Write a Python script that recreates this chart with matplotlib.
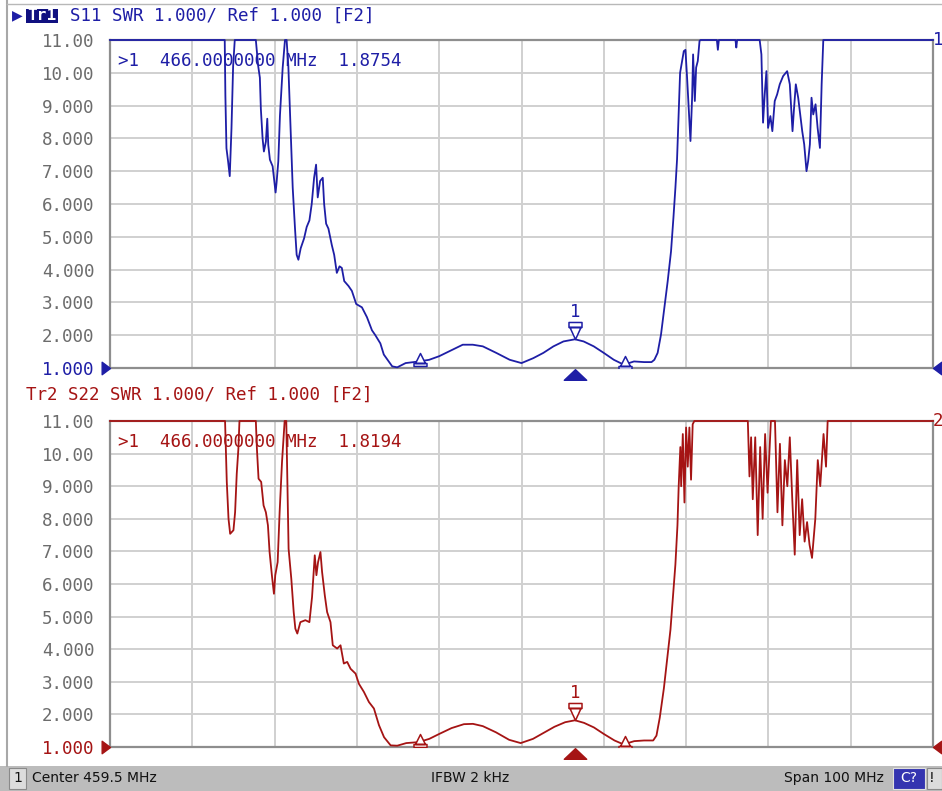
import numpy as np
import matplotlib
matplotlib.use("Agg")
import matplotlib.pyplot as plt
from matplotlib.path import Path
import matplotlib.patches as mpatches
from matplotlib.lines import Line2D

# ---------------- data ----------------
center_mhz = 459.5
span_mhz = 100.0
swr_ticks = [11, 10, 9, 8, 7, 6, 5, 4, 3, 2, 1]
swr_tick_labels = ["11.00", "10.00", "9.000", "8.000", "7.000", "6.000",
                   "5.000", "4.000", "3.000", "2.000", "1.000"]

s11_freq = [409.5, 423.44, 423.52, 423.65, 423.85, 424.05, 424.26, 424.46, 424.66,
            427.22, 427.51, 427.71, 427.83, 428.04, 428.2, 428.44, 428.61, 428.73,
            428.93, 429.26, 429.46, 429.62, 429.74, 429.95, 430.15, 430.48, 430.76,
            430.96, 431.17, 431.49, 431.7, 431.98, 432.18, 432.39, 432.67, 433.08,
            433.4, 433.73, 434.01, 434.3, 434.54, 434.74, 435.03, 435.35, 435.52,
            435.76, 436.04, 436.45, 436.74, 437.06, 437.39, 437.67, 437.96, 438.48,
            438.89, 439.42, 440.11, 440.72, 441.33, 441.74, 442.35, 442.77, 443.79,
            444.4, 445.42, 447.05, 448.28, 449.5, 450.72, 452.36, 453.58, 454.8,
            456.44, 458.07, 459.5, 460.93, 462.15, 463.38, 464.6, 466.0, 467.05,
            468.28, 469.5, 470.72, 471.94, 473.17, 474.4, 475.3, 475.64, 476.04,
            476.45, 476.86, 477.26, 477.67, 477.96, 478.2, 478.4, 478.61, 478.77,
            479.01, 479.22, 479.42, 479.62, 479.83, 480.03, 480.23, 480.35, 480.56,
            480.72, 480.92, 481.13, 481.25, 483.24, 483.36, 483.48, 485.5, 485.6,
            485.7, 488.44, 488.65, 488.85, 489.05, 489.26, 489.46, 489.74, 489.98,
            490.27, 490.56, 490.88, 491.29, 491.78, 492.1, 492.43, 492.59, 492.83,
            493.12, 493.32, 493.61, 493.85, 494.13, 494.33, 494.54, 494.74, 494.95,
            495.23, 495.48, 495.76, 495.97, 496.17, 509.5]
s11_swr = [11, 11, 9.3, 7.7, 7.3, 6.85, 8.3, 10.2, 11,
           11, 10.2, 9.85, 8.9, 8.0, 7.6, 7.9, 8.6, 7.8,
           7.35, 7.15, 6.7, 6.35, 6.65, 7.3, 8.7, 10.15, 11,
           11, 10.2, 8.0, 6.5, 5.25, 4.45, 4.3, 4.65, 4.95,
           5.3, 5.5, 6.0, 6.8, 7.2, 6.2, 6.7, 6.8, 6.0,
           5.4, 5.25, 4.75, 4.45, 3.9, 4.1, 4.05, 3.65, 3.5,
           3.35, 2.95, 2.85, 2.55, 2.15, 2.0, 1.75, 1.41, 1.05,
           1.02, 1.15, 1.2, 1.25, 1.36, 1.51, 1.71, 1.71, 1.66,
           1.46, 1.25, 1.15, 1.3, 1.46, 1.66, 1.81, 1.8754, 1.81,
           1.66, 1.46, 1.25, 1.1, 1.2, 1.18, 1.18, 1.25, 1.46,
           2.02, 2.83, 3.64, 4.56, 5.58, 6.49, 7.36, 8.88, 10.0,
           10.36, 10.66, 10.7, 9.85, 8.83, 7.92, 9.24, 10.56, 9.14,
           10.16, 10.36, 10.97, 11, 11, 10.7, 11, 11, 10.77,
           11, 11, 10.56, 8.48, 9.34, 10.05, 8.32, 8.68, 8.22,
           9.14, 9.34, 9.65, 9.9, 10.05, 9.65, 8.22, 8.83, 9.65,
           9.24, 8.83, 8.22, 7.82, 7.0, 7.31, 7.82, 9.24, 8.73,
           9.04, 8.32, 7.71, 9.65, 11, 11]

s22_freq = [409.5, 423.48, 423.69, 423.9, 424.1, 424.5, 424.7, 424.9, 425.1, 425.23,
            427.22, 427.35, 427.55, 427.87, 428.16, 428.44, 428.69, 428.89, 429.17,
            429.42, 429.58, 429.87, 430.11, 430.4, 430.72, 430.92, 431.2, 431.53,
            431.82, 432.02, 432.26, 432.63, 433.24, 433.73, 434.05, 434.38, 434.58,
            434.78, 435.07, 435.27, 435.6, 435.88, 436.29, 436.57, 437.1, 437.51,
            437.91, 438.32, 438.73, 439.34, 439.74, 440.35, 440.96, 441.57, 442.18,
            442.8, 443.6, 444.4, 445.5, 447.0, 448.3, 449.5, 451.0, 452.5, 453.6,
            454.8, 456.4, 458.0, 459.4, 460.9, 462.3, 463.5, 464.8, 466.0, 467.1,
            468.3, 469.5, 470.8, 471.9, 473.2, 474.4, 475.5, 475.9, 476.3, 476.8,
            477.2, 477.6, 477.9, 478.2, 478.45, 478.6, 478.8, 478.9, 479.1, 479.3,
            479.5, 479.7, 479.9, 480.1, 480.3, 480.5, 487.0, 487.2, 487.4, 487.6,
            487.9, 488.2, 488.5, 488.8, 489.1, 489.4, 489.8, 490.3, 490.6, 490.9,
            491.2, 491.5, 491.8, 492.1, 492.4, 492.7, 493.0, 493.3, 493.6, 493.9,
            494.2, 494.5, 494.8, 495.2, 495.5, 495.8, 496.2, 496.5, 496.7, 509.5]
s22_swr = [11, 11, 9.13, 8.0, 7.54, 7.65, 8.2, 9.38, 10.15, 11,
           11, 10.15, 9.23, 9.13, 8.41, 8.2, 7.8, 6.98, 6.27,
           5.7, 6.27, 6.67, 8.2, 9.74, 11, 11, 7.08, 6.16,
           5.14, 4.63, 4.48, 4.83, 4.89, 4.83, 5.6, 6.88, 6.27,
           6.67, 6.98, 6.37, 5.65, 5.14, 4.83, 4.12, 4.02, 4.12,
           3.56, 3.61, 3.4, 3.25, 2.94, 2.69, 2.38, 2.18, 1.67,
           1.3, 1.05, 1.04, 1.12, 1.15, 1.25, 1.4, 1.58, 1.7, 1.71,
           1.64, 1.45, 1.22, 1.12, 1.25, 1.45, 1.62, 1.76, 1.8194, 1.74,
           1.6, 1.4, 1.2, 1.08, 1.18, 1.2, 1.2, 1.35, 1.9, 2.8,
           3.7, 4.6, 5.6, 6.6, 7.8, 9.0, 10.2, 9.0, 10.6, 8.5,
           10.8, 9.6, 10.8, 9.2, 10.9, 11, 11, 9.3, 10.5, 8.6,
           10.5, 7.5, 10.2, 8.0, 10.6, 8.8, 11, 11, 8.2, 10.3,
           7.8, 9.8, 9.0, 10.5, 8.6, 6.9, 9.8, 7.5, 8.6, 7.3,
           7.9, 7.2, 6.8, 8.0, 9.8, 9.0, 10.6, 9.6, 11, 11]

marker_freq = 466.0
s11_marker_val = 1.8754
s22_marker_val = 1.8194
bw_marker_freqs = [447.17, 472.08]

# ---------------- style ----------------
W, H = 942, 791
BLUE = "#1e1ea6"
RED = "#a51414"
GRAY_TXT = "#6c6c6c"
GRID = "#d0d0d0"
SPINE = "#8e8e8e"
MONO = "DejaVu Sans Mono"
FS = 12.6

fig = plt.figure(figsize=(W / 100, H / 100), dpi=100)
fig.patch.set_facecolor("white")


def fx(px):
    return px / W


def fy(py):
    return 1 - py / H


f_lo = center_mhz - span_mhz / 2
f_hi = center_mhz + span_mhz / 2

# marker shapes (custom paths, origin = anchor point)
tri_right = Path([(0, 0), (-1, 0.75), (-1, -0.75), (0, 0)],
                 [Path.MOVETO, Path.LINETO, Path.LINETO, Path.CLOSEPOLY])
tri_left = Path([(0, 0), (1, 0.75), (1, -0.75), (0, 0)],
                [Path.MOVETO, Path.LINETO, Path.LINETO, Path.CLOSEPOLY])
tri_up_below = Path([(0, -0.1), (-0.95, -1.0), (0.95, -1.0), (0, -0.1)],
                    [Path.MOVETO, Path.LINETO, Path.LINETO, Path.CLOSEPOLY])
mk1_path = Path([(0, 0), (-5.5, 12), (5.5, 12), (0, 0),
                 (-6.5, 12), (6.5, 12), (6.5, 17), (-6.5, 17), (-6.5, 12)],
                [Path.MOVETO, Path.LINETO, Path.LINETO, Path.CLOSEPOLY,
                 Path.MOVETO, Path.LINETO, Path.LINETO, Path.LINETO, Path.CLOSEPOLY])
bw_path = Path([(0, 8), (-5, -2), (5, -2), (0, 8),
                (-6.5, -2), (6.5, -2), (6.5, -5), (-6.5, -5), (-6.5, -2)],
               [Path.MOVETO, Path.LINETO, Path.LINETO, Path.CLOSEPOLY,
                Path.MOVETO, Path.LINETO, Path.LINETO, Path.LINETO, Path.CLOSEPOLY])


def draw_panel(ax, freq, swr, color, mval, trace_no):
    ax.set_xlim(f_lo, f_hi)
    ax.set_ylim(1, 11)
    ax.set_xticks(np.arange(f_lo, f_hi + 0.01, span_mhz / 10))
    ax.set_yticks(swr_ticks)
    ax.set_yticklabels(swr_tick_labels, fontfamily=MONO, fontsize=FS, color=GRAY_TXT)
    ax.get_yticklabels()[-1].set_color(color)
    ax.tick_params(axis="x", length=0, labelbottom=False)
    ax.tick_params(axis="y", length=0, pad=11)
    ax.grid(True, color=GRID, linewidth=1.4)
    ax.set_axisbelow(True)
    for s in ax.spines.values():
        s.set_color(SPINE)
        s.set_linewidth(1.6)
    ax.plot(freq, swr, color=color, linewidth=1.3, clip_on=False, zorder=5)

    # readout
    ax.text(0.0095, 0.935, ">1  466.0000000 MHz  %.4f" % mval, transform=ax.transAxes,
            fontfamily=MONO, fontsize=FS, color=color, va="center", ha="left", zorder=6)
    # reference level arrows
    ax.plot([f_lo], [1], marker=tri_right, markersize=12, color=color,
            clip_on=False, zorder=7)
    ax.plot([f_hi], [1], marker=tri_left, markersize=12, color=color,
            clip_on=False, zorder=7)
    # active marker indicator below axis
    ax.plot([marker_freq], [1], marker=tri_up_below, markersize=17, color=color,
            clip_on=False, zorder=7)
    # marker 1
    ax.plot([marker_freq], [mval], marker=mk1_path, markersize=24.5,
            markerfacecolor="white", markeredgecolor=color, markeredgewidth=1.1,
            linestyle="none", zorder=8)
    ax.annotate("1", (marker_freq, mval), xytext=(0, 19.5), textcoords="offset points",
                ha="center", va="center", fontfamily=MONO, fontsize=FS, color=color,
                zorder=8)
    # bandwidth markers
    for bf in bw_marker_freqs:
        yv = np.interp(bf, freq, swr)
        ax.plot([bf], [yv], marker=bw_path, markersize=11.5,
                markerfacecolor="white", markeredgecolor=color, markeredgewidth=1.1,
                linestyle="none", zorder=8)
    # trace number at right edge
    ax.text(1.0, 1.0, str(trace_no), transform=ax.transAxes, ha="left", va="center",
            fontfamily=MONO, fontsize=FS, color=color, clip_on=False)


ax1 = fig.add_axes([fx(110), fy(368), 823 / W, 328 / H])
ax2 = fig.add_axes([fx(110), fy(747), 823 / W, 326 / H])
draw_panel(ax1, s11_freq, s11_swr, BLUE, s11_marker_val, 1)
draw_panel(ax2, s22_freq, s22_swr, RED, s22_marker_val, 2)

# headers
fig.text(fx(12), fy(15.5), "\u25B6", color=BLUE, fontsize=10, va="center", ha="left",
         family="DejaVu Sans")
fig.patches.append(mpatches.Rectangle((fx(26), fy(23)), 32 / W, 14 / H,
                                      transform=fig.transFigure, facecolor="#101080",
                                      edgecolor="none"))
fig.text(fx(27), fy(15.5), "Tr1", color="white", fontsize=FS - 1, fontweight="bold",
         family=MONO, va="center", ha="left")
fig.text(fx(70), fy(15.5), "S11 SWR 1.000/ Ref 1.000 [F2]", color=BLUE, fontsize=FS,
         family=MONO, va="center", ha="left")
fig.text(fx(26), fy(395), "Tr2 S22 SWR 1.000/ Ref 1.000 [F2]", color=RED, fontsize=FS,
         family=MONO, va="center", ha="left")

# window frame
fig.add_artist(Line2D([fx(7), fx(7)], [fy(0), fy(766)], color="#a8a8a8", linewidth=1.5))
fig.add_artist(Line2D([fx(7), fx(942)], [fy(4), fy(4)], color="#b8b8b8", linewidth=1.0))

# status bar
fig.patches.append(mpatches.Rectangle((0, 0), 1, 25 / H, transform=fig.transFigure,
                                      facecolor="#bcbcbc", edgecolor="none"))
fig.patches.append(mpatches.Rectangle((fx(9), fy(789)), 17 / W, 21 / H,
                                      transform=fig.transFigure, facecolor="#dcdcdc",
                                      edgecolor="#8a8a8a", linewidth=0.8))
fig.text(fx(17.5), fy(778), "1", fontsize=10, color="#111111", ha="center", va="center")
fig.text(fx(32), fy(778), "Center 459.5 MHz", fontsize=10, color="#111111",
         ha="left", va="center")
fig.text(fx(470), fy(778), "IFBW 2 kHz", fontsize=10, color="#111111",
         ha="center", va="center")
fig.text(fx(884), fy(778), "Span 100 MHz", fontsize=10, color="#111111",
         ha="right", va="center")
fig.patches.append(mpatches.Rectangle((fx(893), fy(789)), 32 / W, 21 / H,
                                      transform=fig.transFigure, facecolor="#3434b0",
                                      edgecolor="#e0e0e0", linewidth=0.8))
fig.text(fx(909), fy(778), "C?", fontsize=10, color="white", ha="center", va="center")
fig.patches.append(mpatches.Rectangle((fx(927), fy(789)), 15 / W, 21 / H,
                                      transform=fig.transFigure, facecolor="#dcdcdc",
                                      edgecolor="#8a8a8a", linewidth=0.8))
fig.text(fx(932), fy(778), "!", fontsize=10, color="#111111", ha="center", va="center")

fig.savefig("out.png", dpi=100, facecolor="white")
